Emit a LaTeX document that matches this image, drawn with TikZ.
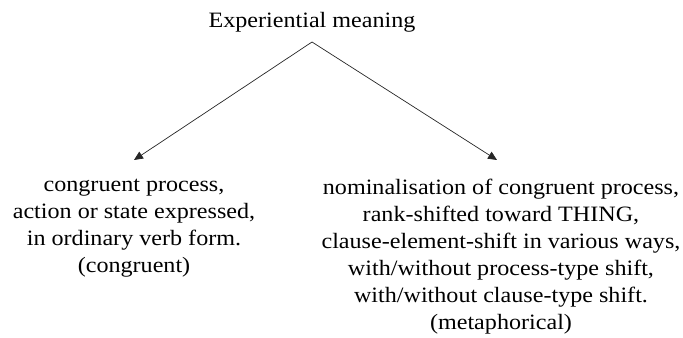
\documentclass[tikz,border=0pt]{standalone}
\usepackage{fontspec}
\setmainfont{Liberation Serif}[FakeStretch=1.1]
\usetikzlibrary{arrows.meta}
\tikzset{
  label text/.style={inner sep=0pt, align=center,
    font=\fontsize{22}{27}\selectfont},
  branch/.style={draw=black!85, line width=0.7bp,
    -{Triangle[length=9bp, width=8bp]}}
}
\begin{document}
\begin{tikzpicture}[x=1bp, y=-1bp]
  \useasboundingbox (0,0) rectangle (683,337);
  % root label and the point where the two branches start
  \node[label text, anchor=base] (root) at (312,27) {Experiential meaning};
  \coordinate (apex) at (312,42);
  % the two readings
  \node[label text, anchor=north] (cong) at (134,179)
    {congruent process,\\ action or state expressed,\\ in ordinary verb form.\\ (congruent)};
  \node[label text, anchor=north] (meta) at (501,179)
    {nominalisation of congruent process,\\ rank-shifted toward THING,\\
     clause-element-shift in various ways,\\ with/without process-type shift,\\
     with/without clause-type shift.\\ (metaphorical)};
  % branches
  \draw[branch] (apex) -- ([yshift=19bp]cong.north);
  \draw[branch] (apex) -- ([xshift=-4bp, yshift=19bp]meta.north);
\end{tikzpicture}
\end{document}
